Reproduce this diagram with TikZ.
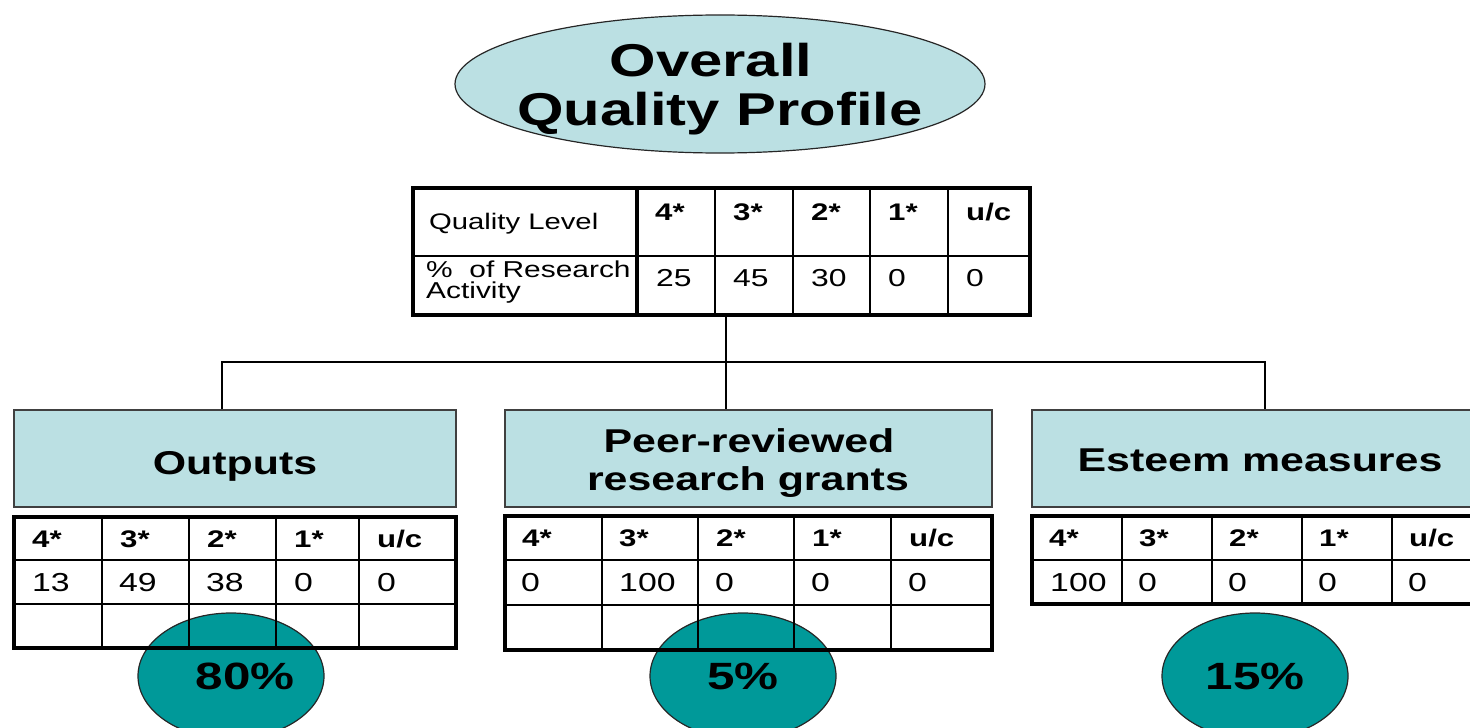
\documentclass[tikz,border=0pt]{standalone}
\usepackage{fontspec}
\setmainfont{Liberation Sans}
\newfontfamily\sx[FakeStretch=1.3]{Liberation Sans}
\usetikzlibrary{shapes.geometric}
\definecolor{paleblue}{HTML}{BBE0E3}
\definecolor{tealfill}{HTML}{009999}
\newcommand\fsz[1]{\fontsize{#1bp}{#1bp}\selectfont}
\begin{document}
\begin{tikzpicture}[x=1bp,y=-1bp,
  catbox/.style={draw=black!75,line width=1.3bp,fill=paleblue,inner sep=0pt},
  catlabel/.style={anchor=base,inner sep=0pt,font=\sx\bfseries\fsz{33}},
  pct/.style={ellipse,draw=black!85,line width=1.2bp,fill=tealfill,minimum width=186bp,minimum height=126bp,inner sep=0pt},
  pctlabel/.style={inner sep=0pt,font=\sx\bfseries\fsz{38}},
  tabframe/.style={draw=black,line width=3.6bp,inner sep=0pt},
  gridline/.style={draw=black,line width=1.4bp},
  hdr/.style={anchor=base west,inner sep=0pt,font=\sx\bfseries\fsz{24}},
  val/.style={anchor=base west,inner sep=0pt,font=\sx\fsz{26}},
  conn/.style={draw=black,line width=1.3bp}]
\useasboundingbox (0,0) rectangle (1470,728);
\clip (0,0) rectangle (1470,728);

% title
\node[ellipse,draw=black!85,line width=1.2bp,fill=paleblue,minimum width=530bp,minimum height=138bp,inner sep=0pt] (title) at (720,84) {};
\node[anchor=base,inner sep=0pt,font=\sx\bfseries\fsz{46}] (t1) at (711,77) {Overall};
\node[anchor=base,inner sep=0pt,font=\sx\bfseries\fsz{46}] (t2) at (720,126) {Quality Profile};

% central table
\foreach \x in {715,793,870,948} \draw[gridline] (\x,188) -- (\x,315);
\draw[gridline] (413,256) -- (1030,256);
\draw[line width=3.6bp] (637,188) -- (637,315);
\node[tabframe,minimum width=617bp,minimum height=127bp] (qtab) at (721.5,251.5) {};
\node[anchor=base west,inner sep=0pt,font=\sx\fsz{22.5}] (ql) at (429,229) {Quality Level};
\node[anchor=base west,inner sep=0pt,font=\sx\fsz{23}] (qr1) at (426,277) {\%\ \ of Research};
\node[anchor=base west,inner sep=0pt,font=\sx\fsz{23}] (qr2) at (426,298) {Activity};
\foreach \x/\t [count=\i] in {655/4*,733/3*,811/2*,888/1*,966/{u/c}}
  \node[hdr] (qh\i) at (\x,220) {\t};
\foreach \x/\t [count=\i] in {656/25,733/45,811/30,888/0,966/0}
  \node[val,font=\sx\fsz{24.5}] (qv\i) at (\x,286) {\t};

% connectors
\coordinate (hub) at (726,362);
\coordinate (bl) at (222,362);
\coordinate (br) at (1265,362);

% category boxes
\node[catbox,minimum width=442bp,minimum height=97bp] (outbox) at (235,458.5) {};
\node[catbox,minimum width=487bp,minimum height=97bp] (peerbox) at (748.5,458.5) {};
\node[catbox,minimum width=442bp,minimum height=97bp] (estbox) at (1253,458.5) {};
\node[catlabel] (outlab) at (235,474) {Outputs};
\node[catlabel] (peerlab1) at (749,452) {Peer-reviewed};
\node[catlabel] (peerlab2) at (748,490) {research grants};
\node[catlabel] (estlab) at (1260,471) {Esteem measures};

\draw[conn] (hub |- qtab.south) -- (hub |- peerbox.north);
\draw[conn] (bl |- outbox.north) -- (bl) -- (br) -- (br |- estbox.north);

% percentage ellipses
\node[pct] (opct) at (231,676) {};
\node[pct] (ppct) at (743,676) {};
\node[pct] (epct) at (1255,676) {};
\node[pctlabel] (opctlab) at (245,676) {80\%};
\node[pctlabel] (ppctlab) at (743,676) {5\%};
\node[pctlabel] (epctlab) at (1255,676) {15\%};

% outputs table
\foreach \x in {102,189,276,359} \draw[gridline] (\x,517) -- (\x,648);
\foreach \y in {560,604} \draw[gridline] (14,\y) -- (456,\y);
\node[tabframe,minimum width=442bp,minimum height=131bp] (otab) at (235,582.5) {};
\foreach \x/\t [count=\i] in {32/4*,120/3*,207/2*,294/1*,377/{u/c}}
  \node[hdr] (oh\i) at (\x,547) {\t};
\foreach \x/\t [count=\i] in {32/13,119/49,206/38,294/0,377/0}
  \node[val] (ov\i) at (\x,591) {\t};

% peer table
\foreach \x in {602,698,794,891} \draw[gridline] (\x,516) -- (\x,650);
\foreach \y in {560,605} \draw[gridline] (505,\y) -- (992,\y);
\node[tabframe,minimum width=487bp,minimum height=134bp] (ptab) at (748.5,583) {};
\foreach \x/\t [count=\i] in {522/4*,619/3*,716/2*,812/1*,909/{u/c}}
  \node[hdr] (ph\i) at (\x,546.5) {\t};
\foreach \x/\t [count=\i] in {521/0,619/100,715/0,811/0,908/0}
  \node[val] (pv\i) at (\x,591.5) {\t};

% esteem table
\foreach \x in {1122,1212,1302,1392} \draw[gridline] (\x,516) -- (\x,604);
\draw[gridline] (1032,560) -- (1482,560);
\node[tabframe,minimum width=450bp,minimum height=88bp] (etab) at (1257,560) {};
\foreach \x/\t [count=\i] in {1049/4*,1139/3*,1229/2*,1319/1*,1409/{u/c}}
  \node[hdr] (eh\i) at (\x,546.5) {\t};
\foreach \x/\t [count=\i] in {1050/100,1138/0,1228/0,1318/0,1408/0}
  \node[val] (ev\i) at (\x,591) {\t};
\end{tikzpicture}
\end{document}
